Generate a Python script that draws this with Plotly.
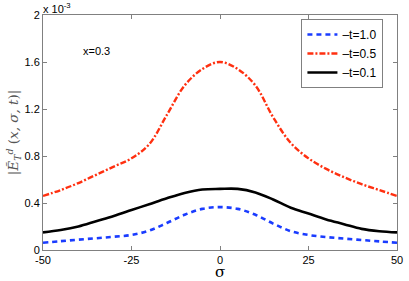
import plotly.graph_objects as go

sigma = [-50, -45, -40, -35, -30, -25, -20, -15, -10, -5, 0, 5, 10, 15, 20, 25, 30, 35, 40, 45, 50]
# values in units of 1e-3
t10 = [0.062, 0.075, 0.088, 0.100, 0.113, 0.128, 0.165, 0.230, 0.300, 0.350, 0.365,
       0.350, 0.300, 0.225, 0.160, 0.128, 0.110, 0.097, 0.085, 0.073, 0.062]
t05 = [0.46, 0.51, 0.57, 0.64, 0.71, 0.78, 0.90, 1.15, 1.40, 1.54, 1.60,
       1.54, 1.40, 1.13, 0.91, 0.78, 0.69, 0.62, 0.56, 0.51, 0.46]
t01 = [0.15, 0.17, 0.20, 0.245, 0.29, 0.34, 0.39, 0.44, 0.485, 0.515, 0.52,
       0.52, 0.49, 0.43, 0.36, 0.31, 0.26, 0.22, 0.18, 0.16, 0.15]
names = ["–t=1.0", "–t=0.5", "–t=0.1"]
xticks = [-50, -25, 0, 25, 50]
yticks = [0, 0.4, 0.8, 1.2, 1.6, 2]
yticklabels = ["0", "0.4", "0.8", "1.2", "1.6", "2"]

fig = go.Figure()
fig.add_trace(go.Scatter(x=sigma, y=t10, mode="lines", name=names[0],
                         line=dict(color="#1a3cff", width=2.6, dash="5px,4px", shape="spline", smoothing=1.0)))
fig.add_trace(go.Scatter(x=sigma, y=t05, mode="lines", name=names[1],
                         line=dict(color="#ff3010", width=2.4, dash="6px,2px,2px,2px", shape="spline", smoothing=1.0)))
fig.add_trace(go.Scatter(x=sigma, y=t01, mode="lines", name=names[2],
                         line=dict(color="black", width=2.6, shape="spline", smoothing=1.0)))

axis_common = dict(showgrid=False, zeroline=False, showline=True, linecolor="#808080",
                   linewidth=1, mirror="ticks", ticks="inside", ticklen=4, tickcolor="#808080",
                   automargin=False, ticklabeloverflow="allow",
                   tickfont=dict(family="Liberation Sans, Arial", size=11, color="black"))

fig.update_xaxes(range=[-50, 50], tickvals=xticks, ticktext=[str(v) for v in xticks],
                 title=dict(text="σ", font=dict(family="DejaVu Serif", size=15, color="black"), standoff=5),
                 **axis_common)
fig.update_yaxes(range=[0, 2], tickvals=yticks, ticktext=yticklabels,
                 title=dict(text="|<i>Ẽ</i><sub><i>T</i></sub><sup><i>d</i></sup> (<i>x, σ, t</i>)|",
                            font=dict(family="DejaVu Serif", size=13.5, color="#555555"), standoff=2),
                 **axis_common)

fig.add_annotation(x=-35, y=1.69, text="x=0.3", showarrow=False, xref="x", yref="y",
                   font=dict(family="Liberation Sans, Arial", size=11, color="black"))
fig.add_annotation(x=0, y=1, xref="paper", yref="paper", xanchor="left", yanchor="bottom",
                   text="x 10<sup>-3</sup>", showarrow=False, yshift=-2, xshift=-2,
                   font=dict(family="Liberation Sans, Arial", size=11, color="black"))

fig.update_layout(
    width=409, height=281,
    margin=dict(l=43, r=12, t=15, b=31),
    plot_bgcolor="white", paper_bgcolor="white",
    legend=dict(x=0.73, y=0.983, xanchor="left", yanchor="top",
                bgcolor="white", bordercolor="#808080", borderwidth=1,
                font=dict(family="Liberation Sans, Arial", size=12, color="black")),
)

fig.write_html("out.html", config={"displayModeBar": False},
               post_script="document.body.style.margin='0';document.body.style.overflow='hidden';")
